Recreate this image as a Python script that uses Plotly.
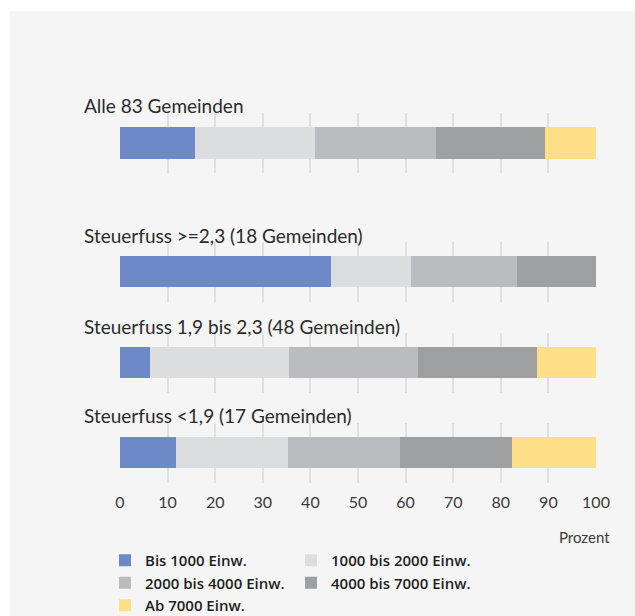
import plotly.graph_objects as go

categories = [
    "Alle 83 Gemeinden",
    "Steuerfuss >=2,3 (18 Gemeinden)",
    "Steuerfuss 1,9 bis 2,3 (48 Gemeinden)",
    "Steuerfuss <1,9 (17 Gemeinden)",
]
series_names = ["Bis 1000 Einw.", "1000 bis 2000 Einw.", "2000 bis 4000 Einw.",
                "4000 bis 7000 Einw.", "Ab 7000 Einw."]
bis_1000 = [15.7, 44.4, 6.3, 11.8]
b1000_2000 = [25.3, 16.7, 29.2, 23.5]
b2000_4000 = [25.3, 22.2, 27.1, 23.5]
b4000_7000 = [22.9, 16.7, 25.0, 23.5]
ab_7000 = [10.8, 0.0, 12.5, 17.6]
series_values = [bis_1000, b1000_2000, b2000_4000, b4000_7000, ab_7000]
colors = ["#6d89c7", "#dcdddf", "#bbbcbf", "#9e9fa0", "#ffdf88"]
tick_vals = [0, 10, 20, 30, 40, 50, 60, 70, 80, 90, 100]

W, H = 635, 616
ML, MR, MT, MB = 120, 39, 100, 126
PH = H - MT - MB
PW = W - ML - MR

def fy(py):
    return (H - MB - py) / PH

def fx(px):
    return (px - ML) / PW

row_centers_px = [143, 271.5, 362.5, 452.5]
label_centers_px = [106, 235, 326, 415]
half = 30

fig = go.Figure()
for r, cat in enumerate(categories):
    suffix = "" if r == 0 else str(r + 1)
    for s, name in enumerate(series_names):
        fig.add_trace(go.Bar(
            x=[series_values[s][r]], y=[cat], orientation="h",
            name=name, marker=dict(color=colors[s], line=dict(width=0)),
            width=0.53, legendgroup=name, showlegend=(r == 0),
            xaxis="x" + suffix, yaxis="y" + suffix,
            hovertemplate=name + ": %{x}%<extra></extra>",
        ))
    c = row_centers_px[r]
    dom = [fy(c + half), fy(c - half)]
    xa = dict(range=[0, 100], tickvals=tick_vals, showgrid=True,
              gridcolor="#e0e0e0", gridwidth=2, zeroline=False,
              showline=False, anchor="y" + suffix,
              showticklabels=(r == 3), ticklabelstandoff=8,
              tickfont=dict(size=16, color="#3a3a3a"), fixedrange=True)
    ya = dict(domain=dom, range=[-0.5, 0.5], showticklabels=False,
              showgrid=False, zeroline=False, anchor="x" + suffix,
              fixedrange=True)
    if r > 0:
        xa["matches"] = "x"
    fig.layout["xaxis" + suffix] = xa
    fig.layout["yaxis" + suffix] = ya
    fig.add_annotation(text=cat, xref="paper", yref="paper",
                       x=fx(82), y=fy(label_centers_px[r]),
                       xanchor="left", yanchor="middle", showarrow=False,
                       font=dict(size=19, color="#2b2b2b"))

fig.add_annotation(text="Prozent", xref="paper", yref="paper",
                   x=fx(612), y=fy(537), xanchor="right", yanchor="middle",
                   showarrow=False, font=dict(size=15, color="#3a3a3a"))

# light panel background
fig.add_shape(type="rect", xref="paper", yref="paper", layer="below",
              x0=fx(10), x1=fx(W + 5), y0=fy(H + 5), y1=fy(11),
              fillcolor="#f4f5f4", line=dict(width=0))

fig.update_layout(
    width=W, height=H,
    margin=dict(l=ML, r=MR, t=MT, b=MB),
    barmode="stack",
    paper_bgcolor="white", plot_bgcolor="rgba(0,0,0,0)",
    font=dict(family="Lato, sans-serif"),
    showlegend=True,
    legend=dict(orientation="h", xref="container", yref="container",
                x=105 / W, y=(H - 544) / H, xanchor="left", yanchor="top",
                entrywidth=141, traceorder="normal",
                bgcolor="rgba(0,0,0,0)",
                font=dict(family="Open Sans, sans-serif", size=15,
                          color="#1e1e1e", weight=600)),
)

fig.write_html("out.html")
